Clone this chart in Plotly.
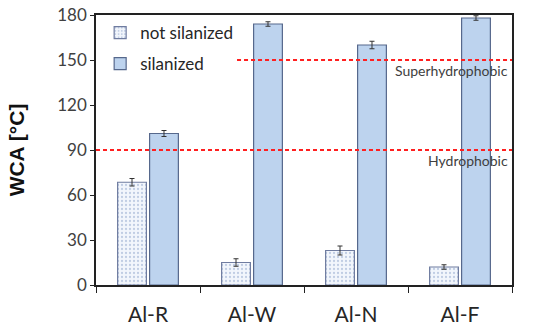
import plotly.graph_objects as go

categories = ["Al-R", "Al-W", "Al-N", "Al-F"]
not_silanized = [68.5, 15, 23, 12]
not_silanized_err = [2.5, 2.5, 3, 1.5]
silanized = [101, 174, 160, 178]
silanized_err = [2, 1.5, 2.5, 1.5]
thresholds = [90, 150]
threshold_labels = ["Hydrophobic", "Superhydrophobic"]
threshold_starts = [0.0, 0.339]

FONT = "Lato"

fig = go.Figure()
fig.add_trace(go.Bar(
    x=categories, y=not_silanized, name="not silanized",
    legendgroup="a",
    marker=dict(color="#f2f6fc",
                line=dict(color="#6f7ca0", width=1.2),
                pattern=dict(shape=".", fgcolor="#8ea4cc", bgcolor="#f2f6fc", size=4, solidity=0.25)),
    error_y=dict(type="data", array=not_silanized_err, color="#333333", thickness=1, width=2.5),
))
fig.add_trace(go.Bar(
    x=categories, y=silanized, name="silanized",
    legendgroup="b",
    marker=dict(color="#bdd3ee", line=dict(color="#56688c", width=1.2)),
    error_y=dict(type="data", array=silanized_err, color="#333333", thickness=1, width=2.5),
))

for v, lab, x0 in zip(thresholds, threshold_labels, threshold_starts):
    fig.add_shape(type="line", xref="paper", yref="y", x0=x0, x1=1, y0=v, y1=v,
                  line=dict(color="#ff1f1f", width=2, dash="4px,3px"))
    fig.add_annotation(xref="paper", yref="y", x=0.995, y=v, text=lab, showarrow=False,
                       xanchor="right", yanchor="top", yshift=0,
                       font=dict(family=FONT, size=14, color="#404040"))

fig.update_layout(
    width=550, height=334,
    margin=dict(l=96, r=38, t=15, b=49),
    paper_bgcolor="white", plot_bgcolor="white",
    barmode="group", bargap=0.385, bargroupgap=0.1,
    font=dict(family=FONT, color="#404040"),
    legend=dict(x=0.01, y=1.0, xanchor="left", yanchor="top",
                font=dict(family=FONT, size=17, color="#262626"),
                traceorder="grouped", tracegroupgap=6,
                bgcolor="rgba(0,0,0,0)"),
    showlegend=True,
)
fig.update_xaxes(
    automargin=False,
    showline=True, linecolor="#222222", linewidth=1.5, mirror=True,
    ticks="outside", tickson="boundaries", ticklen=6, tickcolor="#222222",
    tickfont=dict(family=FONT, size=21, color="#262626"),
    ticklabelstandoff=10,
    showgrid=False,
)
fig.update_yaxes(
    automargin=False,
    range=[0, 180], dtick=30, showline=True, linecolor="#222222", linewidth=1.5, mirror=True,
    ticks="outside", ticklen=4, tickcolor="#222222",
    tickfont=dict(family=FONT, size=17, color="#404040"),
    showgrid=False, zeroline=False,
    title=dict(text="<b>WCA [°C]</b>", font=dict(family="Liberation Sans", size=21, color="#111111"), standoff=27),
)

fig.write_html("out.html", config={"displayModeBar": False},
               post_script="document.body.style.margin='0';")
